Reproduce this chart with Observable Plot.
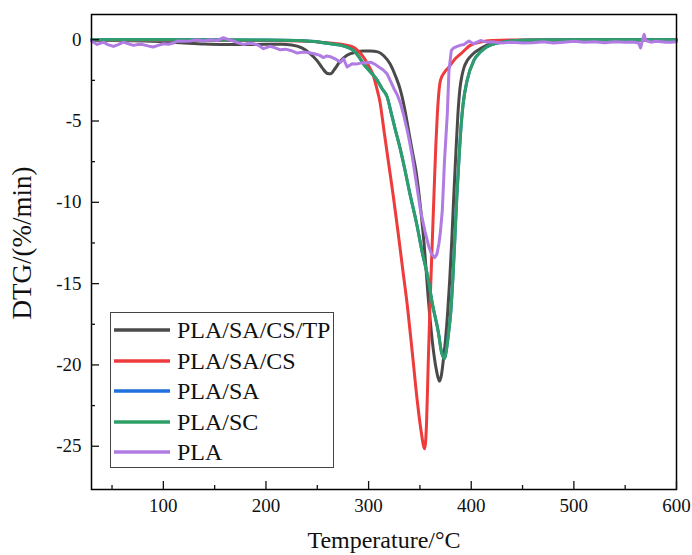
<!DOCTYPE html>
<html>
<head>
<meta charset="utf-8">
<script src="https://cdn.jsdelivr.net/npm/d3@7"></script>
<script src="https://cdn.jsdelivr.net/npm/@observablehq/plot@0.6"></script>
<style>
  html, body { margin: 0; padding: 0; background: #fff; }
  #wrap { position: relative; width: 692px; height: 555px; font-family: "Liberation Serif", "Times New Roman", serif; }
  #chart svg text { font-family: "Liberation Serif", "Times New Roman", serif !important; }
  #legend { position: absolute; left: 110px; top: 312px; width: 224px; height: 156px; border: 1.3px solid #444; background: #fff; box-sizing: border-box; }
  #legend .row { position: absolute; left: 0; height: 30px; display: flex; align-items: center; }
  #legend .row span { font-size: 24px; color: #111; margin-left: 4px; line-height: 1; }
</style>
</head>
<body>
<div id="wrap"><div id="chart"></div><div id="legend"></div></div>
<script>
// ---- Series names & colours ----
const seriesNames = ["PLA/SA/CS/TP", "PLA/SA/CS", "PLA/SA", "PLA/SC", "PLA"];
const seriesColors = ["#4a4a4a", "#ee3b3b", "#1f6fdc", "#2e9f66", "#b07be2"];

// ---- Tick values ----
const xMajor = [100, 200, 300, 400, 500, 600];
const xMinor = [50, 150, 250, 350, 450, 550];
const yMajor = [0, -5, -10, -15, -20, -25];
const yMinor = [-2.5, -7.5, -12.5, -17.5, -22.5];

// ---- PLA/SA/CS/TP ----
const tpT = [30,50,80,100,120,140,160,180,200,215,225,235,243,250,255,260,263,267,272,279,287,295,302,309,315,321,326,331,335,339,343,346,350,354,358,362,366,369,371,373,375,377,379,381,383,385,387,389,391,393,396,399,404,409,415,420,430,440,460,500,550,600];
const tpV = [-0.05,-0.05,-0.08,-0.12,-0.2,-0.27,-0.3,-0.3,-0.28,-0.28,-0.32,-0.5,-0.85,-1.3,-1.75,-2.08,-2.1,-1.8,-1.35,-0.95,-0.78,-0.7,-0.7,-0.75,-1.0,-1.5,-2.2,-3.1,-4.2,-5.6,-7.0,-8.0,-10.0,-12.5,-15.8,-18.5,-20.3,-21.0,-20.6,-19.6,-18.4,-16.8,-14.8,-12.4,-9.6,-7.0,-4.6,-3.0,-2.2,-1.7,-1.3,-1.05,-0.75,-0.55,-0.35,-0.22,-0.1,-0.05,-0.03,-0.02,-0.02,-0.02];

// ---- PLA/SA/CS ----
const csT = [30,100,200,240,253,265,275,285,290,295,300,304,308,311,315,319.5,324,328,333,338,343,347.4,351,354.6,356.5,358,360,362,364,365.5,367,368.5,370,374,378,384,390,399,409,420,440,600];
const csV = [-0.03,-0.03,-0.05,-0.1,-0.15,-0.22,-0.3,-0.45,-0.7,-1.07,-1.6,-2.1,-3.0,-3.8,-5.6,-7.6,-9.6,-11.5,-14.0,-16.5,-19.5,-22.2,-24.0,-25.15,-23.5,-20.1,-16.0,-12.5,-9.0,-6.5,-4.55,-3.2,-2.5,-2.0,-1.7,-1.2,-0.86,-0.35,-0.15,-0.05,-0.02,-0.02];

// ---- PLA/SA (hidden under PLA/SC in the reference) ----
const saT = [30,100,200,230,253,263,273,280,285,290,295,302,308.5,313,318,322,326.3,330,334,340,347.4,352,358,362,368,371,374,376,378,380,382,384,386,388,390,392,396,402.6,409,415,420,430,440,460,500,600];
const saV = [0,0,-0.02,-0.05,-0.15,-0.25,-0.35,-0.48,-0.66,-1.0,-1.48,-2.0,-2.5,-3.0,-3.5,-4.5,-5.6,-6.5,-7.6,-9.4,-11.5,-13.0,-14.7,-16.2,-18.0,-19.2,-19.6,-19.0,-18.0,-16.8,-14.8,-12.3,-9.6,-7.4,-5.4,-4.0,-2.5,-1.27,-0.76,-0.45,-0.3,-0.15,-0.06,-0.02,0,0];

// ---- PLA/SC ----
const scT = [30,100,200,230,253,263,273,280,285,290,295,302,308.5,313,318,322,326.3,330,334,340,347.4,352,358,362,368,371,374,376,378,380,382,384,386,388,390,392,396,402.6,409,415,420,430,440,460,500,600];
const scV = [0,0,-0.02,-0.05,-0.15,-0.25,-0.35,-0.48,-0.66,-1.0,-1.48,-2.0,-2.5,-3.0,-3.5,-4.5,-5.6,-6.5,-7.6,-9.4,-11.5,-13.0,-14.7,-16.2,-18.0,-19.2,-19.6,-19.0,-18.0,-16.8,-14.8,-12.3,-9.6,-7.4,-5.4,-4.0,-2.5,-1.27,-0.76,-0.45,-0.3,-0.15,-0.06,-0.02,0,0];

// ---- PLA ----
const plaT = [30,35.5,41.7,46,51.4,56,61,66,71,76,80,85,90,95,100,105,110,113.5,120,126,133,139,146,152,158.6,163,168,173,178,183,188,193,197.6,204,209,214,219,224,230.5,237,242,247,252,256,259,263,268,272.7,275.6,279,284,288,292,297,302,306,310,314,318,321,324.6,328,331,334,337.7,340,342.6,346,350.6,355,358.8,361.5,364.3,366.5,368.5,370,371.8,374,376.7,378.3,380.6,383,386.4,389,392.9,395,397.8,402,409,415,420,430,440,450,460,470,480,490,500,510,520,530,540,550,558,563,565,567,568.5,570,575,580,585,590,595,600];
const plaV = [-0.08,-0.29,-0.15,-0.3,-0.41,-0.3,-0.15,-0.25,-0.35,-0.28,-0.3,-0.38,-0.45,-0.35,-0.25,-0.28,-0.2,-0.08,-0.1,-0.08,0,-0.08,0,-0.05,0.12,0.02,-0.08,-0.2,-0.29,-0.22,-0.25,-0.35,-0.55,-0.41,-0.5,-0.62,-0.58,-0.66,-0.82,-0.76,-0.8,-0.86,-0.95,-1.1,-1.0,-1.05,-1.2,-1.38,-1.17,-1.68,-1.48,-1.5,-1.44,-1.42,-1.38,-1.5,-1.68,-1.85,-2.1,-2.5,-3.0,-3.4,-3.9,-4.6,-5.6,-6.3,-7.2,-8.6,-10.5,-11.8,-12.75,-13.2,-13.4,-13.2,-12.55,-11.8,-10.5,-7.4,-4.55,-1.9,-0.66,-0.5,-0.41,-0.35,-0.29,-0.2,-0.08,-0.25,-0.05,-0.15,-0.12,-0.2,-0.15,-0.2,-0.18,-0.12,-0.2,-0.15,-0.1,-0.15,-0.12,-0.18,-0.12,-0.15,-0.14,-0.2,-0.5,0.0,0.33,-0.05,-0.15,-0.1,-0.12,-0.16,-0.15,-0.12];

const seriesT = [tpT, csT, saT, scT, plaT];
const seriesV = [tpV, csV, saV, scV, plaV];

const data = seriesNames.map((name, i) => seriesT[i].map((t, j) => ({series: name, T: t, V: seriesV[i][j]})));

const font = "'Liberation Serif', 'Times New Roman', serif";

const chart = Plot.plot({
  width: 692,
  height: 555,
  marginLeft: 91,
  marginRight: 16,
  marginTop: 14,
  marginBottom: 66,
  style: {fontFamily: font, background: "#fff", color: "#111"},
  x: {domain: [30, 600]},
  y: {domain: [-27.66, 1.55]},
  marks: [
    ...data.map((d, i) => Plot.line(d, {
      x: "T", y: "V",
      stroke: seriesColors[i],
      strokeWidth: 3,
      curve: i === 4 ? "linear" : "monotone-x"
    })),
    Plot.frame({stroke: "#000", strokeWidth: 1.5}),
    Plot.axisX(xMajor, {tickSize: 8, dy: -8, text: null, label: null, strokeWidth: 1.3}),
    Plot.axisX(xMinor, {tickSize: 4, dy: -4, text: null, label: null, strokeWidth: 1.3}),
    Plot.axisX(xMajor, {tickSize: 0, tickPadding: 9, fontSize: 19, tickFormat: d => `${d}`,
      label: "Temperature/°C", labelAnchor: "center", labelArrow: "none", labelOffset: 58}),
    Plot.axisY(yMajor, {tickSize: 8, dx: 8, text: null, label: null, strokeWidth: 1.3}),
    Plot.axisY(yMinor, {tickSize: 4, dx: 4, text: null, label: null, strokeWidth: 1.3}),
    Plot.axisY(yMajor, {tickSize: 0, tickPadding: 10, fontSize: 19, tickFormat: d => `${d}`,
      label: "DTG/(%/min)", labelAnchor: "center", labelArrow: "none", labelOffset: 80})
  ]
});
// enlarge axis titles
d3.select(chart).selectAll("g[aria-label='x-axis label'] text").style("font-size", "24px");
d3.select(chart).selectAll("g[aria-label='y-axis label'] text").style("font-size", "27px").attr("x", 9);
document.getElementById("chart").appendChild(chart);

// ---- Legend ----
const legend = document.getElementById("legend");
const rowTops = [2, 32.5, 63, 93.5, 124];
seriesNames.forEach((name, i) => {
  const row = document.createElement("div");
  row.className = "row";
  row.style.top = rowTops[i] + "px";
  row.innerHTML = `<svg width="62" height="30"><line x1="3" x2="59" y1="15" y2="15" stroke="${seriesColors[i]}" stroke-width="3.5"/></svg><span>${name}</span>`;
  legend.appendChild(row);
});
</script>
</body>
</html>
